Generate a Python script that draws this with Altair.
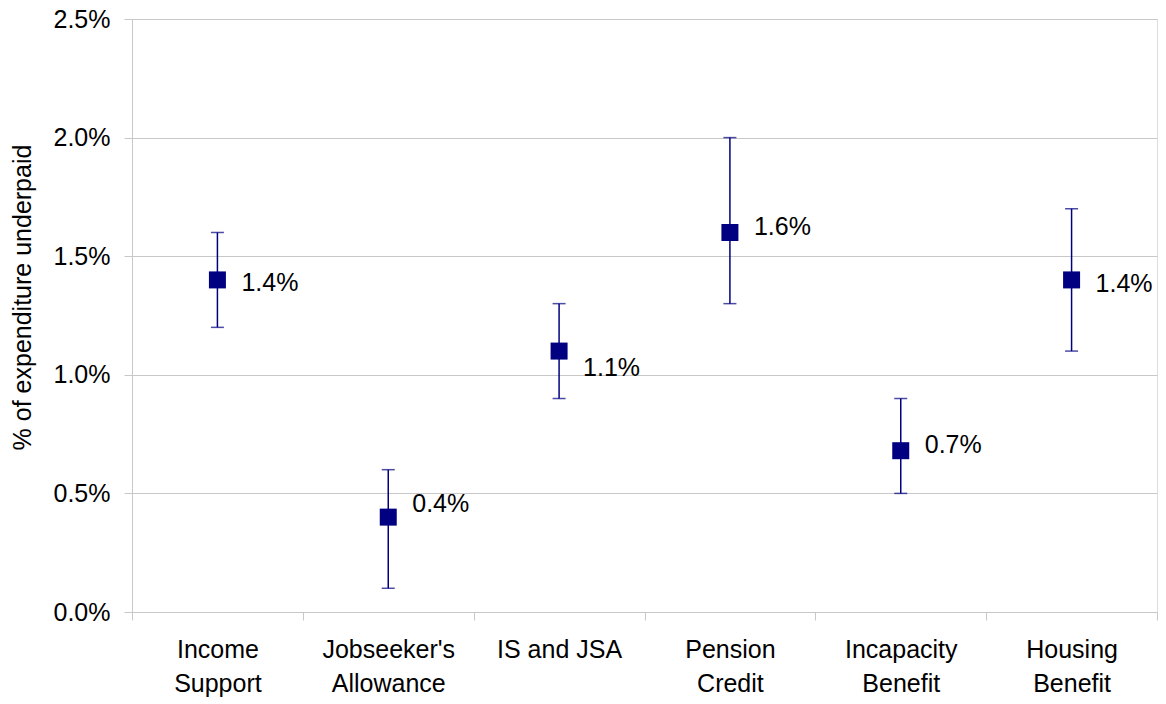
import altair as alt
import pandas as pd

# benefit categories ("|" marks the line break in the axis label)
categories = [
    "Income|Support",
    "Jobseeker's|Allowance",
    "IS and JSA",
    "Pension|Credit",
    "Incapacity|Benefit",
    "Housing|Benefit",
]
central = [0.0140, 0.0040, 0.0110, 0.0160, 0.0068, 0.0140]
lower = [0.0120, 0.0010, 0.0090, 0.0130, 0.0050, 0.0110]
upper = [0.0160, 0.0060, 0.0130, 0.0200, 0.0090, 0.0170]
labels = ["1.4%", "0.4%", "1.1%", "1.6%", "0.7%", "1.4%"]
label_at = [0.01387, 0.00454, 0.01029, 0.01622, 0.00706, 0.01382]
y_ticks = [0.0, 0.005, 0.010, 0.015, 0.020, 0.025]

df = pd.DataFrame({
    "cat": categories,
    "central": central,
    "lower": lower,
    "upper": upper,
    "label": labels,
    "label_at": label_at,
})

NAVY = "#000080"
GRID = "#c8c8c8"
FONT = "Liberation Sans"
YTITLE = "% of expenditure underpaid"

yscale = alt.Scale(domain=[0, 0.025], nice=False, zero=True)

base = alt.Chart(df).encode(
    x=alt.X(
        "cat:N",
        sort=categories,
        scale=alt.Scale(paddingInner=0, paddingOuter=0),
        axis=alt.Axis(
            title=None,
            labelAngle=0,
            labelExpr="split(datum.label, '|')",
            labelFontSize=25,
            labelLineHeight=34,
            labelPadding=17,
            labelColor="black",
            labelFont=FONT,
            tickBand="extent",
            tickSize=8,
            tickColor=GRID,
            domainColor=GRID,
            grid=False,
        ),
    )
)

bars = base.mark_rule(color=NAVY, strokeWidth=1.5).encode(
    y=alt.Y(
        "lower:Q",
        scale=yscale,
        title=YTITLE,
        axis=alt.Axis(
            values=y_ticks,
            format=".1%",
            labelFontSize=25,
            labelFont=FONT,
            labelColor="black",
            labelPadding=14,
            tickSize=8,
            tickColor=GRID,
            domainColor=GRID,
            gridColor=GRID,
            titleFontSize=25,
            titleFont=FONT,
            titleFontWeight="normal",
            titleColor="black",
            titlePadding=18,
            titleY=278,
        ),
    ),
    y2="upper:Q",
)

caps_low = base.mark_tick(color=NAVY, thickness=1.5, size=13, orient="horizontal").encode(
    y=alt.Y("lower:Q", scale=yscale, title=YTITLE)
)
caps_high = base.mark_tick(color=NAVY, thickness=1.5, size=13, orient="horizontal").encode(
    y=alt.Y("upper:Q", scale=yscale, title=YTITLE)
)

points = base.mark_square(color=NAVY, size=289, opacity=1, filled=True).encode(
    y=alt.Y("central:Q", scale=yscale, title=YTITLE)
)

text = base.mark_text(
    align="left", baseline="middle", dx=24, fontSize=25, font=FONT, color="black"
).encode(
    y=alt.Y("label_at:Q", scale=yscale, title=YTITLE),
    text="label:N",
)

chart = (
    alt.layer(bars, caps_low, caps_high, points, text)
    .properties(
        width=1025,
        height=593,
        autosize=alt.AutoSizeParams(type="none"),
        padding={"left": 124, "top": 11, "right": 1, "bottom": 92},
    )
    .configure_view(stroke=GRID, strokeWidth=1)
    .configure(background="white")
)

chart.save("out.html", embed_options={"renderer": "svg", "actions": False})
